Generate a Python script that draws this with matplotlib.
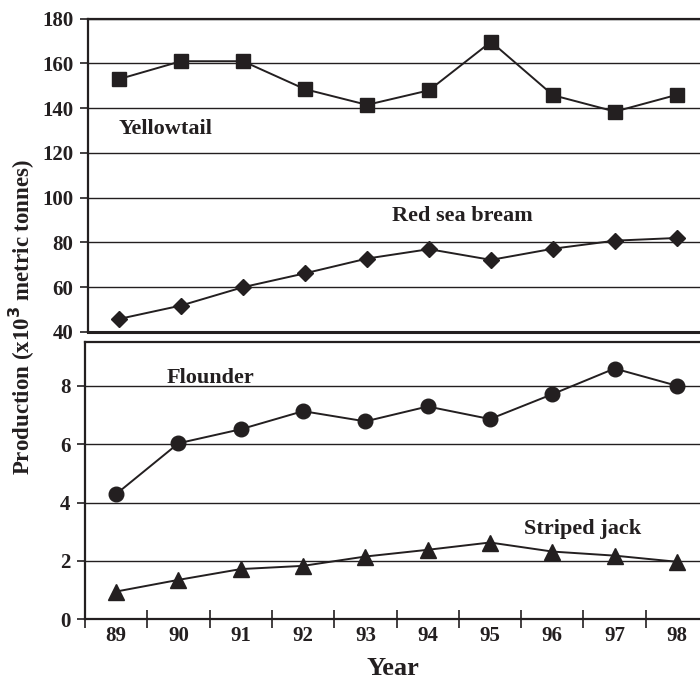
import numpy as np
import matplotlib
matplotlib.use("Agg")
import matplotlib.pyplot as plt
from matplotlib.ticker import FixedLocator

INK = "#231f20"

years = [89, 90, 91, 92, 93, 94, 95, 96, 97, 98]
yellowtail = [153, 161, 161, 148.5, 141.5, 148, 169.7, 145.8, 138.5, 146]
red_sea_bream = [45.8, 51.8, 60, 66.2, 72.8, 77, 72.2, 77.2, 80.8, 82]
flounder = [4.29, 6.03, 6.51, 7.13, 6.78, 7.29, 6.86, 7.71, 8.59, 8.0]
striped_jack = [0.95, 1.35, 1.72, 1.83, 2.15, 2.38, 2.63, 2.32, 2.18, 1.97]

top_ticks = [40, 60, 80, 100, 120, 140, 160, 180]
bottom_ticks = [0, 2, 4, 6, 8]

plt.rcParams["font.family"] = ["Liberation Serif", "DejaVu Serif"]
plt.rcParams["font.weight"] = "bold"

fig = plt.figure(figsize=(7, 6.83), dpi=100)
ax_top = fig.add_axes([0.1257, 0.514, 0.8743, 0.4586])
ax_bot = fig.add_axes([0.1214, 0.0933, 0.8786, 0.406])

xlim = (88.5, 98.37)

for ax, ticks in ((ax_top, top_ticks), (ax_bot, bottom_ticks)):
    ax.set_xlim(*xlim)
    ax.set_yticks(ticks)
    ax.yaxis.grid(True, color=INK, linewidth=1.0)
    ax.set_axisbelow(True)
    ax.spines["right"].set_visible(False)
    for s in ("left", "top", "bottom"):
        ax.spines[s].set_color(INK)
        ax.spines[s].set_linewidth(1.6)
    ax.tick_params(axis="y", direction="out", length=6, width=1.2, color=INK,
                   labelsize=15, labelcolor=INK, pad=4.5)
    for lab in ax.get_yticklabels():
        lab.set_fontweight("bold")

ax_top.set_ylim(40, 180)
ax_top.set_xticks([])
ax_top.spines["bottom"].set_linewidth(2.2)

ax_bot.set_ylim(0, 9.5)
ax_bot.set_xticks(years)
ax_bot.set_xticklabels([str(y) for y in years], fontsize=15, fontweight="bold", color=INK)
ax_bot.tick_params(axis="x", which="major", length=0, pad=5)
ax_bot.xaxis.set_minor_locator(FixedLocator(np.arange(88.5, 98, 1.0)))
ax_bot.tick_params(axis="x", which="minor", direction="inout", length=13, width=1.2, color=INK)

line_kw = dict(color=INK, linewidth=1.4, markerfacecolor=INK, markeredgecolor=INK, clip_on=False)
ax_top.plot(years, yellowtail, marker="s", markersize=9.5, **line_kw)
ax_top.plot(years, red_sea_bream, marker="D", markersize=8.5, **line_kw)
ax_bot.plot(years, flounder, marker="o", markersize=10.5, **line_kw)
ax_bot.plot(years, striped_jack, marker="^", markersize=11.5, **line_kw)

txt_kw = dict(fontsize=16, fontweight="bold", color=INK, va="center", ha="left")
ax_top.text(89.0, 130.8, "Yellowtail", **txt_kw)
ax_top.text(93.41, 92.0, "Red sea bream", **txt_kw)
ax_bot.text(89.81, 8.25, "Flounder", **txt_kw)
ax_bot.text(95.54, 3.1, "Striped jack", **txt_kw)

ax_bot.set_xlabel("Year", fontsize=19, fontweight="bold", color=INK, labelpad=8)
fig.text(0.031, 0.536, "Production (x10$^{3}$ metric tonnes)", rotation=90,
         fontsize=16.5, fontweight="bold", color=INK, ha="center", va="center")

fig.savefig("out.png", dpi=100)
